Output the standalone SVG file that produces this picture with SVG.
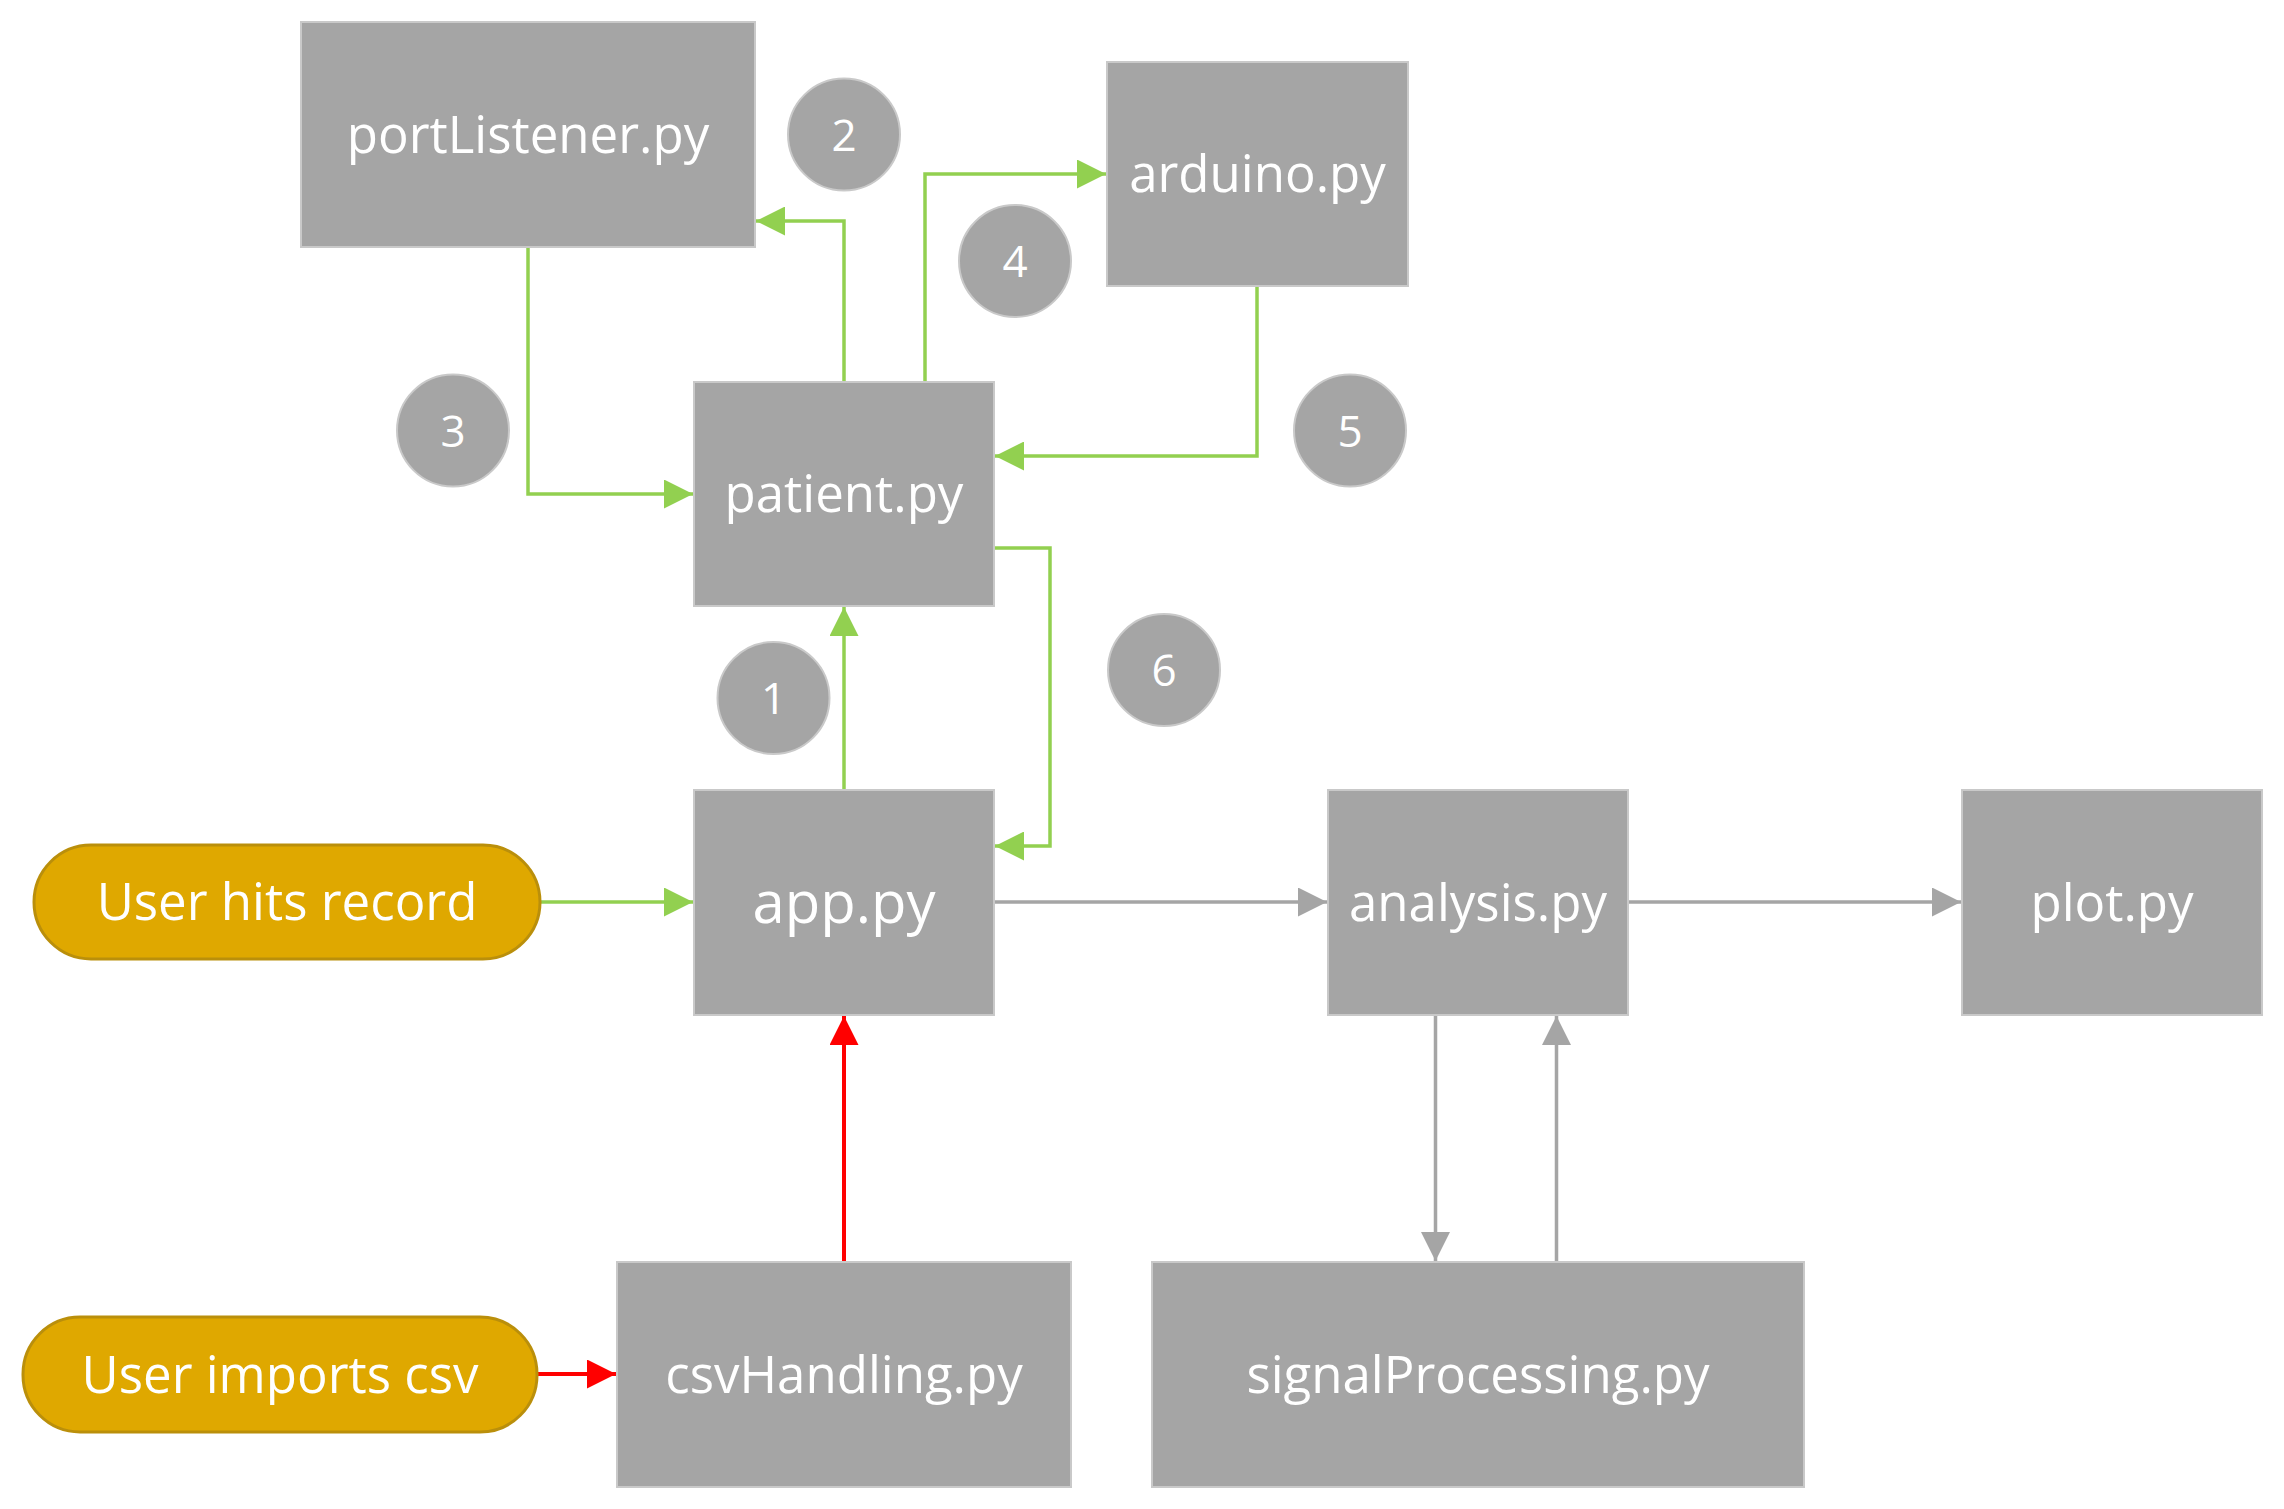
<svg xmlns="http://www.w3.org/2000/svg" width="2284" height="1509" viewBox="0 0 2284 1509">
<style>
.box{fill:#A5A5A5;stroke:#C9C9C9;stroke-width:2}
.pill{fill:#DFA800;stroke:#BA8F0B;stroke-width:3}
.num{fill:#A5A5A5;stroke:#C9C9C9;stroke-width:2}
.lbl{font-family:"Open Sans","Liberation Sans",sans-serif;fill:#FFFFFF;text-anchor:middle;font-size:51px}
.big{font-size:58px}
.dig{font-size:44px}
.g{fill:none;stroke:#92D050;stroke-width:3.5}
.r{fill:none;stroke:#FF0000;stroke-width:4}
.k{fill:none;stroke:#A5A5A5;stroke-width:3.5}
</style>
<defs>
<marker id="ag" markerUnits="userSpaceOnUse" markerWidth="29" markerHeight="29" refX="29" refY="14.5" orient="auto"><path d="M0,0 L29,14.5 L0,29 z" fill="#92D050"/></marker>
<marker id="ar" markerUnits="userSpaceOnUse" markerWidth="29" markerHeight="29" refX="29" refY="14.5" orient="auto"><path d="M0,0 L29,14.5 L0,29 z" fill="#FF0000"/></marker>
<marker id="ak" markerUnits="userSpaceOnUse" markerWidth="29" markerHeight="29" refX="29" refY="14.5" orient="auto"><path d="M0,0 L29,14.5 L0,29 z" fill="#A5A5A5"/></marker>
</defs>
<rect width="2284" height="1509" fill="#FFFFFF"/>
<g id="connectors">
<path class="g" d="M844,790 V607" marker-end="url(#ag)"/>
<path class="g" d="M844,382 V221 H756" marker-end="url(#ag)"/>
<path class="g" d="M528,247 V494 H693" marker-end="url(#ag)"/>
<path class="g" d="M925,382 V174 H1106" marker-end="url(#ag)"/>
<path class="g" d="M1257,286 V456 H995" marker-end="url(#ag)"/>
<path class="g" d="M994,548 H1050 V846 H995" marker-end="url(#ag)"/>
<path class="g" d="M540,902 H693" marker-end="url(#ag)"/>
<path class="r" d="M537,1374 H616" marker-end="url(#ar)"/>
<path class="r" d="M844,1262 V1016" marker-end="url(#ar)"/>
<path class="k" d="M994,902 H1327" marker-end="url(#ak)"/>
<path class="k" d="M1628,902 H1961" marker-end="url(#ak)"/>
<path class="k" d="M1435.5,1015 V1261" marker-end="url(#ak)"/>
<path class="k" d="M1556.5,1262 V1016" marker-end="url(#ak)"/>
</g>
<g id="portListener"><rect class="box" x="301" y="22" width="454" height="225"/><text class="lbl" x="528" y="152.7">portListener.py</text></g>
<g id="arduino"><rect class="box" x="1107" y="62" width="301" height="224"/><text class="lbl" x="1257.5" y="192">arduino.py</text></g>
<g id="patient"><rect class="box" x="694" y="382" width="300" height="224"/><text class="lbl" x="844" y="512">patient.py</text></g>
<g id="app"><rect class="box" x="694" y="790" width="300" height="225"/><text class="lbl big" x="844" y="923">app.py</text></g>
<g id="analysis"><rect class="box" x="1328" y="790" width="300" height="225"/><text class="lbl" x="1478" y="921">analysis.py</text></g>
<g id="plot"><rect class="box" x="1962" y="790" width="300" height="225"/><text class="lbl" x="2112" y="921">plot.py</text></g>
<g id="csvHandling"><rect class="box" x="617" y="1262" width="454" height="225"/><text class="lbl" x="844" y="1393">csvHandling.py</text></g>
<g id="signalProcessing"><rect class="box" x="1152" y="1262" width="652" height="225"/><text class="lbl" x="1478" y="1393">signalProcessing.py</text></g>
<g id="userRecord"><rect class="pill" x="34" y="845" width="506" height="114" rx="57" ry="57"/><text class="lbl" x="287" y="920">User hits record</text></g>
<g id="userImport"><rect class="pill" x="23" y="1317" width="514" height="115" rx="57" ry="57"/><text class="lbl" x="280" y="1393">User imports csv</text></g>
<g id="n1"><circle class="num" cx="773.5" cy="698" r="56"/><text class="lbl dig" x="773.5" y="714">1</text></g>
<g id="n2"><circle class="num" cx="844" cy="134.5" r="56"/><text class="lbl dig" x="844" y="150.5">2</text></g>
<g id="n3"><circle class="num" cx="453" cy="430.5" r="56"/><text class="lbl dig" x="453" y="446.5">3</text></g>
<g id="n4"><circle class="num" cx="1015" cy="261" r="56"/><text class="lbl dig" x="1015" y="277">4</text></g>
<g id="n5"><circle class="num" cx="1350" cy="430.5" r="56"/><text class="lbl dig" x="1350" y="446.5">5</text></g>
<g id="n6"><circle class="num" cx="1164" cy="670" r="56"/><text class="lbl dig" x="1164" y="686">6</text></g>
</svg>
